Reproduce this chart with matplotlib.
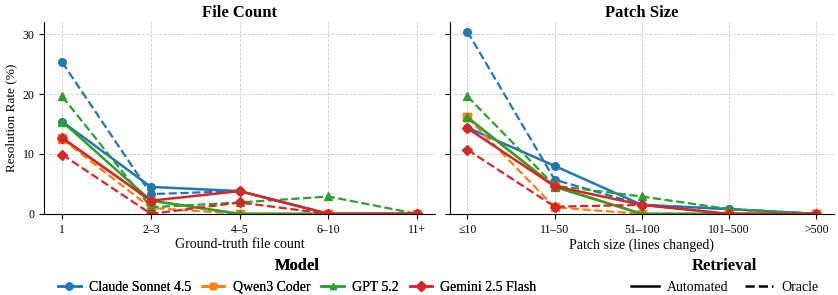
import matplotlib.pyplot as plt
from matplotlib.lines import Line2D

plt.rcParams['font.family'] = ['Liberation Serif', 'DejaVu Serif']

# categories
file_bins = ['1', '2\u20133', '4\u20135', '6\u201310', '11+']
patch_bins = ['\u226410', '11\u201350', '51\u2013100', '101\u2013500', '>500']

models = ['Claude Sonnet 4.5', 'Qwen3 Coder', 'GPT 5.2', 'Gemini 2.5 Flash']
colors = ['#1f77b4', '#ff7f0e', '#2ca02c', '#d62728']
markers = ['o', 's', '^', 'D']

# resolution rate (%) by file count
file_auto = {
    'Claude Sonnet 4.5': [15.4, 4.5, 3.8, 0.0, 0.0],
    'Qwen3 Coder': [12.6, 2.2, 0.0, 0.0, 0.0],
    'GPT 5.2': [15.4, 2.2, 0.0, 0.0, 0.0],
    'Gemini 2.5 Flash': [12.7, 2.2, 3.8, 0.0, 0.0],
}
file_oracle = {
    'Claude Sonnet 4.5': [25.3, 3.3, 3.8, 0.0, 0.0],
    'Qwen3 Coder': [12.5, 1.0, 0.0, 0.0, 0.0],
    'GPT 5.2': [19.6, 1.1, 1.9, 2.9, 0.0],
    'Gemini 2.5 Flash': [9.9, 0.0, 1.9, 0.0, 0.0],
}

# resolution rate (%) by patch size
patch_auto = {
    'Claude Sonnet 4.5': [14.4, 8.0, 1.5, 0.8, 0.0],
    'Qwen3 Coder': [16.1, 4.6, 0.0, 0.0, 0.0],
    'GPT 5.2': [16.1, 4.5, 0.0, 0.0, 0.0],
    'Gemini 2.5 Flash': [14.3, 4.6, 1.5, 0.0, 0.0],
}
patch_oracle = {
    'Claude Sonnet 4.5': [30.4, 5.7, 1.5, 0.8, 0.0],
    'Qwen3 Coder': [16.1, 1.1, 0.0, 0.0, 0.0],
    'GPT 5.2': [19.6, 4.7, 2.9, 0.8, 0.0],
    'Gemini 2.5 Flash': [10.7, 1.2, 1.5, 0.0, 0.0],
}

fig = plt.figure(figsize=(8.38, 2.95), dpi=100)
ax1 = fig.add_axes([0.053, 0.275, 0.466, 0.65])
ax2 = fig.add_axes([0.537, 0.275, 0.458, 0.65], sharey=ax1)


def draw(ax, bins, auto, oracle, title, xlabel):
    x = list(range(len(bins)))
    for m, c, mk in zip(models, colors, markers):
        ms = 5 if mk == 'D' else 5.5
        ax.plot(x, auto[m], color=c, marker=mk, ms=ms, lw=1.8, ls='-')
        ax.plot(x, oracle[m], color=c, marker=mk, ms=ms, lw=1.6, ls='--')
    ax.set_xticks(x)
    ax.set_xticklabels(bins)
    ax.set_xlim(-0.2, len(bins) - 0.8)
    ax.set_title(title, fontsize=12, fontweight='bold', pad=4)
    ax.set_xlabel(xlabel, fontsize=10, labelpad=2)
    ax.grid(True, ls='--', lw=0.6, color='#cccccc')
    ax.set_axisbelow(True)
    ax.spines['top'].set_visible(False)
    ax.spines['right'].set_visible(False)
    ax.tick_params(labelsize=8.5)


draw(ax1, file_bins, file_auto, file_oracle, 'File Count', 'Ground-truth file count')
draw(ax2, patch_bins, patch_auto, patch_oracle, 'Patch Size', 'Patch size (lines changed)')
ax1.set_ylim(0, 32)
ax1.set_yticks([0, 10, 20, 30])
ax1.set_ylabel('Resolution Rate (%)', fontsize=9.5)
ax2.tick_params(labelleft=False)

model_handles = [Line2D([], [], color=c, marker=mk, ms=5, lw=1.8) for c, mk in zip(colors, markers)]
leg1 = fig.legend(model_handles, models, title='Model', ncol=4, loc='center',
                  bbox_to_anchor=(0.355, 0.065), frameon=False, fontsize=10,
                  title_fontproperties={'weight': 'bold', 'size': 12},
                  handlelength=1.6, columnspacing=0.8, handletextpad=0.6)
fig.add_artist(leg1)
ret_handles = [Line2D([], [], color='black', lw=1.8, ls='-'),
               Line2D([], [], color='black', lw=1.8, ls='--')]
fig.legend(ret_handles, ['Automated', 'Oracle'], title='Retrieval', ncol=2, loc='center',
           bbox_to_anchor=(0.865, 0.065), frameon=False, fontsize=10,
           title_fontproperties={'weight': 'bold', 'size': 12},
           handlelength=2.0, columnspacing=1.2, handletextpad=0.6)

fig.savefig('out.png', dpi=100)
